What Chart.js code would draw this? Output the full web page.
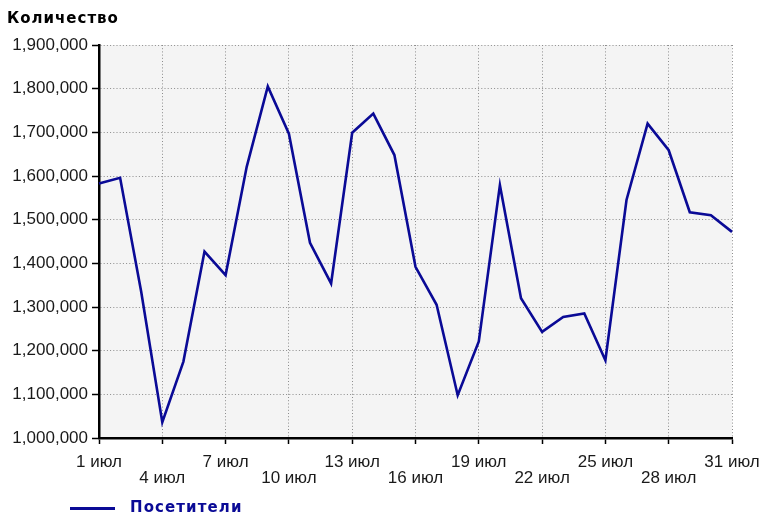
<!DOCTYPE html>
<html>
<head>
<meta charset="utf-8">
<script src="https://cdn.jsdelivr.net/npm/chart.js@4/dist/chart.umd.min.js"></script>
<style>
body{margin:0;background:#fff;}
#wrap{position:relative;width:760px;height:519px;}
#chart{position:absolute;left:0;top:0;}
.title{position:absolute;left:7px;top:9px;font:bold 15px "DejaVu Sans",sans-serif;color:#000;letter-spacing:1px;}
.legend{position:absolute;left:70px;top:498px;height:20px;}
.legend .swatch{position:absolute;left:0;top:9px;width:45px;height:3px;background:#0a0a96;}
.legend .label{position:absolute;left:60px;top:0;font:bold 15px "DejaVu Sans",sans-serif;color:#0a0a96;letter-spacing:1.1px;white-space:nowrap;}
</style>
</head>
<body>
<div id="wrap">
<canvas id="chart" width="760" height="519"></canvas>
<div class="title">Количество</div>
<div class="legend"><div class="swatch"></div><div class="label">Посетители</div></div>
</div>
<script>

const days = ['1 июл','2 июл','3 июл','4 июл','5 июл','6 июл','7 июл','8 июл','9 июл','10 июл',
'11 июл','12 июл','13 июл','14 июл','15 июл','16 июл','17 июл','18 июл','19 июл','20 июл',
'21 июл','22 июл','23 июл','24 июл','25 июл','26 июл','27 июл','28 июл','29 июл','30 июл','31 июл'];

const visitors = [1583000,1596000,1335000,1036000,1175000,1427000,1373000,1621000,1805000,1697000,
1447000,1354000,1699000,1743000,1648000,1392000,1305000,1098000,1221000,1579000,
1320000,1243000,1277000,1285000,1178000,1545000,1720000,1659000,1517000,1510000,1472000];

const yMin = 1000000;
const yMax = 1900000;
const yStep = 100000;

// every third day gets a label, alternating between two rows
const labelEvery = 3;

const plotBackground = {
id:"plotBackground",
beforeDraw(chart){
let a = chart.chartArea;
let ctx = chart.ctx;
ctx.save();
ctx.fillStyle = "#f4f4f4";
ctx.fillRect(a.left, a.top, a.right - a.left, a.bottom - a.top);
ctx.restore();
}
};

let axisFont = {family:"'Liberation Sans', Arial, sans-serif", size:17, lineHeight:0.95};

let visitorsChart = new Chart(document.getElementById("chart"),{

type:"line",

data:{
labels:days,
datasets:[{
label:"Посетители",
data:visitors,
borderColor:"#0a0a96",
borderWidth:2.6,
pointRadius:0,
tension:0,
fill:false
}]
},

options:{
responsive:false,
animation:false,
layout:{padding:{top:45,right:28,left:0,bottom:0}},
plugins:{
legend:{display:false},
tooltip:{enabled:false}
},
scales:{
x:{
offset:false,
grid:{
color:"#8c8c8c",
lineWidth:1,
tickColor:"#000",
tickLength:6,
tickWidth:1.5
},
border:{color:"#000",width:2.5,dash:[1,2.2]},
ticks:{
autoSkip:false,
maxRotation:0,
color:"#1a1a1a",
font:axisFont,
padding:10,
callback:function(value, index){
if(index % labelEvery !== 0) return null;
let label = days[index];
return (index / labelEvery) % 2 === 0 ? label : ["", label];
}
},
afterFit:function(scale){
scale.height = 81;
scale.paddingRight = 28;
}
},
y:{
min:yMin,
max:yMax,
grid:{
color:"#8c8c8c",
lineWidth:1,
tickColor:"#000",
tickLength:7,
tickWidth:1.5
},
border:{color:"#000",width:2.5,dash:[1,2.2]},
ticks:{
stepSize:yStep,
color:"#1a1a1a",
font:axisFont,
padding:4,
callback:function(value){ return value.toLocaleString("en-US"); }
},
afterFit:function(scale){ scale.width = 99; }
}
}
},

plugins:[plotBackground]

});

</script>
</body>
</html>
